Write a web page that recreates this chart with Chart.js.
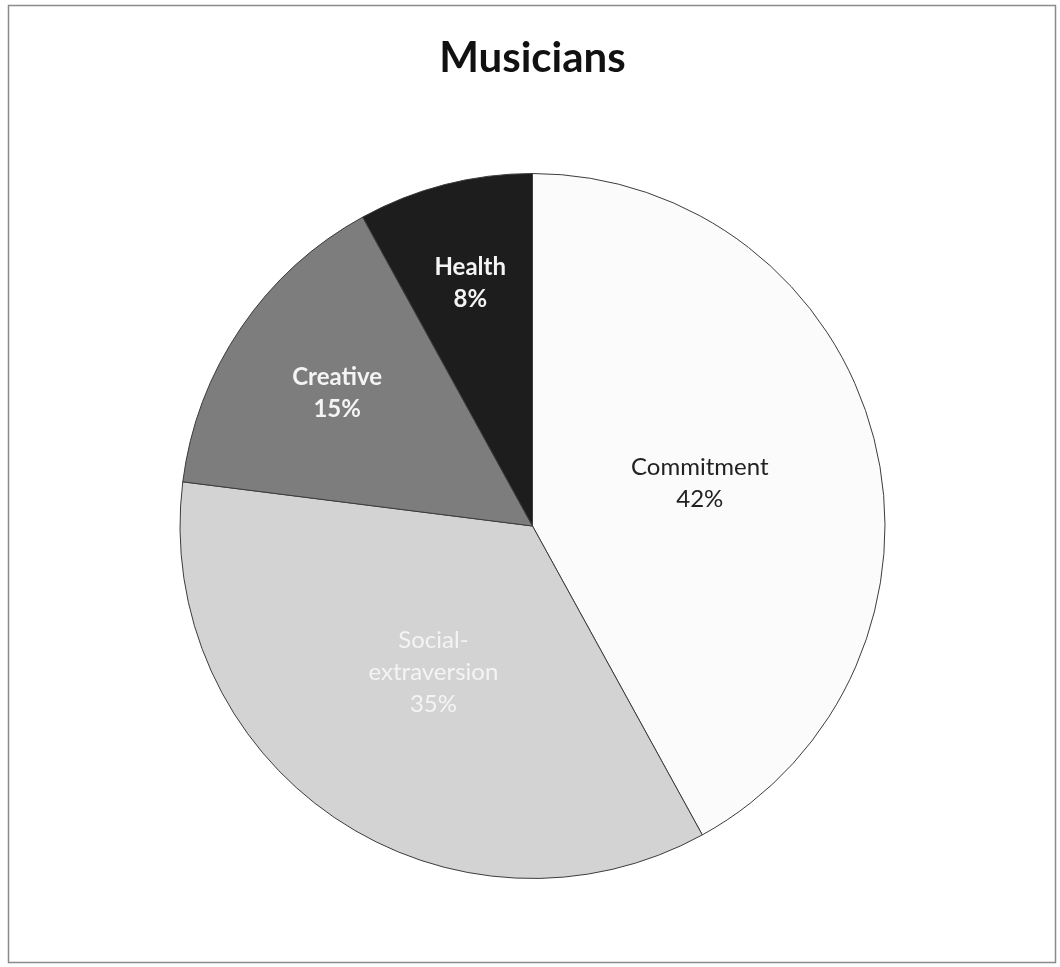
<!DOCTYPE html>
<html>
<head>
<meta charset="utf-8">
<script src="https://cdn.jsdelivr.net/npm/chart.js@4"></script>
<style>
  html, body { margin: 0; padding: 0; background: #fff; }
  #wrap { width: 1060px; height: 967px; }
</style>
</head>
<body>
<div id="wrap"><canvas id="musiciansChart" width="1060" height="967"></canvas></div>
<script>
const categories = ['Commitment', 'Social-extraversion', 'Creative', 'Health']
const percents = [42, 35, 15, 8]
const sliceColors = ['#fbfbfb', '#d3d3d3', '#7d7d7d', '#1d1d1d']
const labelColors = ['#222222', '#f4f4f4', '#f4f4f4', '#f4f4f4']
const labelWeights = ['normal', 'normal', 'bold', 'bold']
// label lines (split where the original chart wraps)
const labelLines = [['Commitment'], ['Social-', 'extraversion'], ['Creative'], ['Health']]
// how far out from the centre each label sits, as a fraction of the radius
const labelDepth = [0.49, 0.5, 0.67, 0.71]

// frame round the whole chart
const framePlugin = {
  id: 'frame',
  beforeDraw(chart) {
    const ctx = chart.ctx
    ctx.save()
    ctx.fillStyle = '#ffffff'
    ctx.fillRect(0, 0, chart.width, chart.height)
    ctx.strokeStyle = '#8a8a8a'
    ctx.lineWidth = 1.5
    ctx.strokeRect(8.5, 5.5, 1047, 957)
    ctx.restore()
  }
}

// data labels drawn inside the slices
const sliceLabels = {
  id: 'sliceLabels',
  afterDatasetsDraw(chart) {
    const ctx = chart.ctx
    const meta = chart.getDatasetMeta(0)
    ctx.save()
    ctx.textAlign = 'center'
    ctx.textBaseline = 'middle'
    meta.data.forEach((arc, i) => {
      const mid = (arc.startAngle + arc.endAngle) / 2
      const r = arc.outerRadius * labelDepth[i]
      const x = arc.x + Math.cos(mid) * r
      const y = arc.y + Math.sin(mid) * r
      const lines = labelLines[i].concat([percents[i] + '%'])
      const lh = 32
      const top = y - (lines.length - 1) * lh / 2
      ctx.font = labelWeights[i] + ' 24px Lato, "Open Sans", sans-serif'
      ctx.fillStyle = labelColors[i]
      lines.forEach((txt, j) => ctx.fillText(txt, x, top + j * lh))
    })
    ctx.restore()
  }
}

new Chart(document.getElementById('musiciansChart'), {
  type: 'pie',
  data: {
    labels: categories,
    datasets: [{
      data: percents,
      backgroundColor: sliceColors,
      borderColor: '#3c3c3c',
      borderWidth: 1,
      hoverOffset: 0
    }]
  },
  options: {
    responsive: false,
    animation: false,
    layout: { padding: { top: 0, bottom: 88, left: 5, right: 0 } },
    plugins: {
      legend: { display: false },
      tooltip: { enabled: false },
      title: {
        display: true,
        text: 'Musicians',
        color: '#111111',
        font: { family: 'Lato, "Open Sans", sans-serif', size: 42, weight: 'bold', lineHeight: 1.2 },
        padding: { top: 33, bottom: 89.6 }
      }
    }
  },
  plugins: [framePlugin, sliceLabels]
})
</script>
</body>
</html>
